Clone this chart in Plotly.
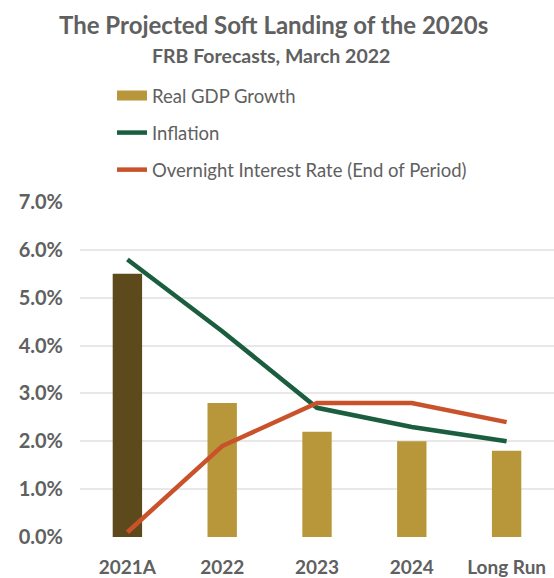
import plotly.graph_objects as go

categories = ["2021A", "2022", "2023", "2024", "Long Run"]
gdp = [5.5, 2.8, 2.2, 2.0, 1.8]
inflation = [5.8, 4.3, 2.7, 2.3, 2.0]
interest = [0.1, 1.9, 2.8, 2.8, 2.4]
y_ticks = [0, 1, 2, 3, 4, 5, 6, 7]

gold = "#b8973a"
dark = "#5c4a1c"
green = "#1b5e3f"
orange = "#c9522a"
gray = "#606060"
font = "Lato"

W, H = 554, 578
L, R, T, B = 80, 0, 202, 41
PW, PH = W - L - R, H - T - B


def px_x(x):
    return (x - L) / PW


def px_y(y):
    return (H - B - y) / PH


bar_colors = [dark] + [gold] * (len(categories) - 1)

fig = go.Figure()
fig.add_trace(go.Bar(x=categories, y=gdp, name="Real GDP Growth",
                     marker=dict(color=bar_colors, line=dict(width=0)),
                     width=0.31, legendgroup="a", showlegend=False))
fig.add_trace(go.Scatter(x=[categories[0]], y=[None], name="Real GDP Growth", mode="lines",
                         line=dict(color=gold, width=10), legendgroup="a", legendrank=1))
fig.add_trace(go.Scatter(x=categories, y=inflation, name="Inflation", mode="lines",
                         line=dict(color=green, width=4.5), legendgroup="b", legendrank=2))
fig.add_trace(go.Scatter(x=categories, y=interest, name="Overnight Interest Rate (End of Period)",
                         mode="lines", line=dict(color=orange, width=4.5), legendgroup="c",
                         legendrank=3))

fig.update_layout(
    width=W, height=H,
    margin=dict(l=L, r=R, t=T, b=B, autoexpand=False),
    plot_bgcolor="white", paper_bgcolor="white",
    font=dict(family=font, color=gray, size=15),
    showlegend=True,
    legend=dict(x=px_x(112), y=px_y(77),
                xanchor="left", yanchor="top", tracegroupgap=10,
                font=dict(family=font, size=18.5, color=gray),
                traceorder="grouped", bgcolor="rgba(0,0,0,0)"),
    annotations=[
        dict(text="<b>The Projected Soft Landing of the 2020s</b>", xref="paper", yref="paper",
             x=px_x(273), y=px_y(24), xanchor="center", yanchor="middle", showarrow=False,
             font=dict(family=font, size=24, color=gray)),
        dict(text="<b>FRB Forecasts, March 2022</b>", xref="paper", yref="paper",
             x=px_x(271), y=px_y(56), xanchor="center", yanchor="middle", showarrow=False,
             font=dict(family=font, size=19.5, color=gray)),
    ],
)
fig.update_xaxes(showgrid=False, showline=False, zeroline=False, ticks="", tickangle=0,
                 ticklabelstandoff=17,
                 tickfont=dict(family=font, size=19, color=gray, weight="bold"))
fig.update_yaxes(range=[0, 7], tickvals=y_ticks, ticktext=[f"{v:.1f}%" for v in y_ticks],
                 showgrid=True, gridcolor="#e8e8e8", gridwidth=1.5, zeroline=False,
                 showline=False, ticklabelstandoff=16,
                 tickfont=dict(family=font, size=20, color=gray, weight="bold"))

fig.write_html("out.html")
